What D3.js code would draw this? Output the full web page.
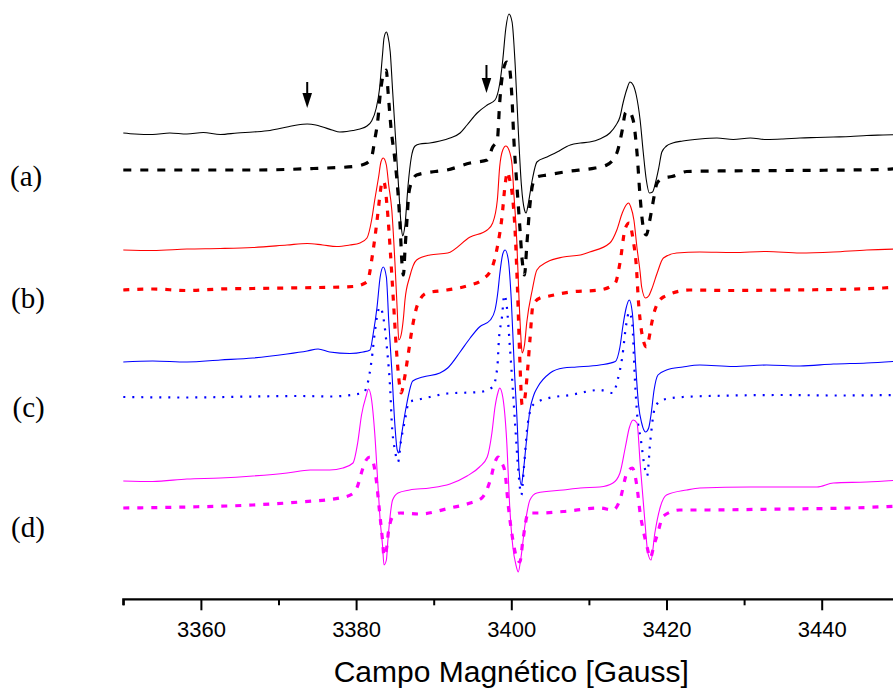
<!DOCTYPE html>
<html>
<head>
<meta charset="utf-8">
<script src="https://cdn.jsdelivr.net/npm/d3@7"></script>
<style>
  html, body { margin: 0; padding: 0; background: #fff; }
  svg { display: block; }
</style>
</head>
<body>
<svg id="chart" width="893" height="688"></svg>
<script>
// ---- Data (field in Gauss, intensity in arbitrary units) ----
const majorTicks = [3360, 3380, 3400, 3420, 3440];
const minorTicks = [3350, 3370, 3390, 3410, 3430, 3450];
const sampleLabels = ["(a)", "(b)", "(c)", "(d)"];
const axisTitle = "Campo Magnético [Gauss]";

const aSolid = [[3350,467],[3351.5,466],[3353.8,465.5],[3356,467],[3358.2,466],[3360.3,467.5],[3362.5,465.5],[3364.7,467],[3366.7,468],[3368.9,469.5],[3371.1,473],[3372.4,475],[3373.7,476],[3374.8,475],[3375.7,473],[3376.9,470],[3377.9,468],[3378.8,468.5],[3379.6,469.5],[3380.5,471],[3381.4,474],[3382.0,479],[3382.6,492],[3383.0,510],[3383.4,545],[3383.6,562],[3383.9,568],[3384.1,564],[3384.4,548],[3384.7,510],[3385.1,460],[3385.5,410],[3385.8,375],[3386.0,364],[3386.3,375],[3386.7,415],[3387.1,442],[3387.6,454],[3388.2,456],[3389.5,457],[3390.8,459],[3392.1,462],[3393.4,467],[3394.3,475],[3395.6,487],[3396.9,495],[3397.9,500],[3398.5,516],[3398.9,540],[3399.3,572],[3399.7,586],[3400.1,578],[3400.5,535],[3400.9,470],[3401.3,415],[3401.7,390],[3401.9,387],[3402.2,397],[3402.7,420],[3403.3,438],[3404.6,443],[3405.9,448],[3407.6,455],[3408.9,457],[3410.1,458],[3411.4,461],[3412.7,467],[3413.5,475],[3414.0,483],[3414.4,497],[3414.9,511],[3415.3,518],[3415.7,515],[3416.1,505],[3416.6,480],[3417.0,448],[3417.4,420],[3417.8,407],[3418.2,408],[3418.6,418],[3419.0,432],[3419.4,448],[3420.0,454],[3420.8,457],[3422.1,459],[3424.3,461],[3426.5,462],[3428.6,460.5],[3430.8,462],[3432.9,460.5],[3435.0,461],[3437.2,462],[3439.4,462.5],[3441.5,463],[3443.7,463.5],[3445.8,464.5],[3447.9,465],[3450.1,465.5]];

const aDashed = [[3350,430],[3358.2,430],[3366.7,430],[3374.5,431.5],[3379.6,433.5],[3381.4,437],[3382.0,443],[3382.4,460],[3382.8,480],[3383.1,505],[3383.5,525],[3383.9,530],[3384.1,510],[3384.5,472],[3385.0,440],[3385.4,407],[3385.7,370],[3385.9,338],[3386.1,325],[3386.3,350],[3386.6,385],[3386.8,407],[3387.3,420],[3387.8,425],[3390.2,428.5],[3391.7,430],[3394.7,437],[3396.9,440],[3397.6,453],[3398.2,460],[3398.5,497],[3398.9,527],[3399.4,538],[3399.7,535],[3400.1,500],[3400.3,465],[3400.7,417],[3401.1,373],[3401.4,340],[3401.7,325],[3402.0,355],[3402.4,395],[3402.8,417],[3403.3,423],[3404.6,425],[3407.2,428.5],[3410.8,432],[3412.3,435],[3413.6,447],[3414.3,470],[3414.7,487],[3415.1,489],[3415.7,480],[3416.2,447],[3416.6,403],[3417.0,373],[3417.4,365],[3417.8,378],[3418.2,395],[3418.8,417],[3419.6,422],[3420.7,423.5],[3422.6,428.5],[3426.5,429],[3435.0,429.5],[3443.7,430],[3447.9,430.5],[3450.1,432]];

const bSolid = [[3350,350],[3353.8,349.5],[3358.2,351],[3362.5,351.5],[3366.7,352.5],[3371.1,355],[3373.7,356.5],[3375.7,355],[3377.5,353.5],[3379.2,355],[3380.5,357],[3381.4,362],[3382.0,380],[3382.4,400],[3382.9,423],[3383.2,438],[3383.5,442],[3383.9,435],[3384.2,415],[3384.6,390],[3385.0,338],[3385.3,290],[3385.5,260],[3385.8,265],[3386.1,282],[3386.3,300],[3386.9,323],[3387.8,340],[3389.5,345],[3391.8,347],[3394.7,363],[3396.9,370],[3397.6,377],[3398.2,400],[3398.5,433],[3398.9,450],[3399.3,454],[3399.7,450],[3400.1,435],[3400.3,410],[3400.7,360],[3401.0,300],[3401.3,255],[3401.4,247],[3401.7,255],[3402.0,278],[3402.7,310],[3403.3,330],[3404.6,338],[3406.7,343],[3408.9,345],[3410.1,348],[3412.7,357],[3413.6,370],[3414.3,387],[3414.8,395],[3415.1,397],[3415.4,393],[3415.8,380],[3416.2,352],[3416.6,328],[3416.8,313],[3417.3,302],[3417.7,304],[3418.1,311],[3418.8,327],[3419.6,342],[3421.3,347],[3424.3,348],[3428.6,347.5],[3432.9,348.5],[3437.2,347],[3441.5,348],[3445.8,350],[3450.1,351]];

const bDashed = [[3350,310],[3353.8,311],[3358.2,309.5],[3362.5,311],[3366.7,311.5],[3371.1,312],[3375.3,312.5],[3379.6,313.5],[3381.4,318],[3382.2,350],[3382.9,393],[3383.1,407],[3383.4,419],[3383.6,418],[3384.0,393],[3384.4,350],[3384.8,300],[3385.2,250],[3385.6,215],[3385.8,207],[3386.2,220],[3386.7,245],[3387.3,275],[3387.9,295],[3389.1,307],[3391.7,310],[3394.7,315],[3396.2,320],[3397.5,332],[3398.2,353],[3398.8,383],[3399.2,415],[3399.5,428],[3399.8,420],[3400.1,407],[3400.5,367],[3400.8,310],[3401.1,240],[3401.4,195],[3401.7,200],[3402.1,230],[3402.4,260],[3402.8,295],[3403.7,302],[3404.6,303.5],[3407.6,308],[3411.4,310],[3413.4,317],[3414.0,337],[3414.7,372],[3415.2,377],[3415.7,360],[3416.1,335],[3416.4,297],[3416.6,280],[3417.0,260],[3417.4,253],[3417.7,260],[3418.1,277],[3418.5,290],[3419.6,303],[3423.0,310],[3428.6,309.5],[3435.0,310],[3441.5,310.5],[3447.9,312],[3450.1,313]];

const cSolid = [[3350,238],[3353.8,239],[3358.2,238],[3362.5,240],[3366.7,242],[3371.1,246],[3373.7,249],[3375.1,251],[3376.6,248],[3379.2,246.5],[3380.9,248],[3381.8,250],[3382.2,266],[3382.7,293],[3383.1,323],[3383.5,333],[3383.9,323],[3384.2,280],[3384.6,230],[3385.0,175],[3385.3,150],[3385.5,147],[3385.8,162],[3386.2,182],[3386.5,195],[3387.3,219],[3388.6,223],[3390.8,227],[3391.8,232],[3393.4,248],[3394.7,262],[3395.9,273],[3397.3,280],[3397.9,290],[3398.3,310],[3398.5,325],[3398.9,346],[3399.2,350],[3399.6,341],[3400.0,300],[3400.4,230],[3400.8,170],[3401.0,130],[3401.3,115],[3401.5,125],[3401.9,155],[3402.4,190],[3402.9,205],[3403.4,213],[3405.0,227],[3406.7,232],[3408.4,233],[3411.4,235],[3413.4,238.5],[3414.0,253],[3414.4,275],[3414.8,292],[3415.2,300],[3415.6,287],[3416.0,238],[3416.4,195],[3416.8,177],[3417.3,168],[3417.7,172],[3418.0,185],[3418.4,210],[3418.9,225],[3420.0,230],[3422.1,233],[3424.3,235],[3428.6,233.5],[3432.9,235],[3437.2,234],[3441.5,236],[3445.8,237],[3450.1,239]];

const cDotted = [[3350,203],[3358.2,202.5],[3366.7,203.5],[3372.8,204],[3376.6,203.5],[3380.9,207],[3381.5,217],[3382.0,240],[3382.4,267],[3382.8,288],[3383.1,293],[3383.5,283],[3384.0,250],[3384.4,210],[3384.6,177],[3385.0,150],[3385.4,138],[3385.8,160],[3386.3,180],[3386.8,198],[3387.8,200],[3389.5,203],[3391.8,206.5],[3395.9,208],[3397.6,213],[3398.2,233],[3398.4,260],[3398.8,283],[3399.1,305],[3399.4,295],[3399.8,255],[3400.2,210],[3400.5,175],[3400.9,130],[3401.3,105],[3401.6,130],[3402.1,175],[3402.8,195],[3404.6,201.5],[3407.6,205],[3411.4,210],[3413.1,207],[3413.7,220],[3414.3,243],[3414.8,275],[3415.2,288],[3415.6,275],[3415.9,225],[3416.2,187],[3416.7,160],[3417.2,132],[3417.5,124],[3417.9,158],[3418.5,192],[3419.4,200],[3422.1,203],[3428.6,204.5],[3435.0,205],[3441.5,204.5],[3450.1,205]];

const dSolid = [[3350,119],[3353.8,118.5],[3358.2,121],[3362.5,122],[3366.7,124],[3371.1,127],[3374.1,130],[3376.6,130],[3378.3,132],[3379.6,137],[3380.2,157],[3380.7,185],[3381.3,204],[3381.6,211],[3382.0,200],[3382.4,167],[3382.8,117],[3383.1,80],[3383.4,55],[3383.6,35],[3383.9,40],[3384.1,60],[3384.4,85],[3384.7,100],[3385.4,107],[3386.9,110],[3389.5,112],[3392.1,116],[3394.3,124],[3395.9,133],[3396.9,143],[3397.5,167],[3397.9,193],[3398.3,208],[3398.5,212],[3398.9,203],[3399.4,160],[3399.8,93],[3400.2,53],[3400.6,35],[3400.9,28],[3401.2,40],[3401.8,77],[3402.4,100],[3403.3,107],[3406.7,110],[3408.9,112],[3411.4,113],[3413.1,117],[3414.0,127],[3414.7,153],[3415.2,172],[3415.7,180],[3416.2,177],[3416.6,137],[3417.2,80],[3417.6,47],[3418.0,40],[3418.5,67],[3419.2,93],[3420.0,105],[3422.6,110],[3424.3,112],[3430.8,113],[3439.4,113],[3441.5,117],[3445.8,118],[3450.1,120]];

const dDashed = [[3350,92],[3358.2,93],[3366.7,95],[3372.8,98],[3377.9,102],[3379.5,106],[3380.1,112],[3380.8,130],[3381.3,140],[3381.8,143],[3382.2,138],[3382.6,120],[3383.0,90],[3383.4,60],[3383.6,44],[3383.9,50],[3384.2,70],[3384.8,84],[3385.7,87],[3388.2,86],[3392.1,92],[3394.7,97],[3396.2,102],[3397.3,120],[3397.9,138],[3398.3,143],[3398.8,137],[3399.2,127],[3399.6,95],[3400.2,60],[3400.7,42],[3401.1,38],[3401.5,60],[3402.2,87],[3403.7,87],[3406.7,88.5],[3411.4,92],[3413.1,90],[3414.0,100],[3414.9,127],[3415.6,132],[3416.2,113],[3416.6,87],[3417.0,70],[3417.5,53],[3417.9,42],[3418.4,55],[3418.8,65],[3419.6,84],[3421.7,90],[3424.3,90],[3435.0,91],[3443.7,92],[3450.1,94]];

// arrows: field position, top of shaft, tip (intensity units)
const arrowFields = [3373.7, 3396.8];
const arrowTops = [518, 535];
const arrowTips = [492, 507];

// label vertical positions (intensity units, baseline)
const labelLevels = [414, 292, 183, 63];

// ---- Drawing ----
const svg = d3.select("#chart");
const x = d3.scaleLinear().domain([3350, 3450]).range([123.3, 899.3]);
const y = d3.scaleLinear().domain([0, 600]).range([600, 0]);

const series = [
  {data: aSolid,  color: "#000000", width: 1.1, dash: null},
  {data: aDashed, color: "#000000", width: 3.2, dash: "8,9"},
  {data: bSolid,  color: "#ff0000", width: 1.1, dash: null},
  {data: bDashed, color: "#ff0000", width: 3.2, dash: "6,8"},
  {data: cSolid,  color: "#0000ff", width: 1.1, dash: null},
  {data: cDotted, color: "#0000ff", width: 2.2, dash: "2,7"},
  {data: dSolid,  color: "#ff00ff", width: 1.1, dash: null},
  {data: dDashed, color: "#ff00ff", width: 3.2, dash: "6,8"}
];

const line = d3.line()
  .x(d => x(d[0]))
  .y(d => y(d[1]))
  .curve(d3.curveMonotoneX);

svg.append("g").selectAll("path")
  .data(series)
  .join("path")
  .attr("d", d => line(d.data))
  .attr("fill", "none")
  .attr("stroke", d => d.color)
  .attr("stroke-width", d => d.width)
  .attr("stroke-dasharray", d => d.dash)
  .attr("stroke-linejoin", "round");

// arrows
const arrows = svg.append("g");
arrowFields.forEach((f, i) => {
  const ax = x(f), top = y(arrowTops[i]), tip = y(arrowTips[i]);
  arrows.append("line")
    .attr("x1", ax).attr("x2", ax)
    .attr("y1", top).attr("y2", tip - 12)
    .attr("stroke", "#000").attr("stroke-width", 2);
  arrows.append("path")
    .attr("d", `M${ax-4.8},${tip-15} L${ax+4.8},${tip-15} L${ax},${tip} Z`)
    .attr("fill", "#000");
});

// x axis
const axisY = y(0) - 0.7;
const minor = svg.append("g")
  .attr("transform", `translate(0,${axisY})`)
  .call(d3.axisBottom(x).tickValues(minorTicks).tickSize(6).tickFormat(""));
minor.select(".domain").attr("stroke-width", 2.2).attr("d", `M${x(3350)},6V0H${x(3450)}`);
minor.selectAll(".tick line").attr("stroke-width", 2);

const major = svg.append("g")
  .attr("transform", `translate(0,${axisY})`)
  .call(d3.axisBottom(x).tickValues(majorTicks).tickSize(11).tickPadding(11).tickFormat(d3.format("d")));
major.select(".domain").remove();
major.selectAll(".tick line").attr("stroke-width", 2);
major.selectAll(".tick text")
  .attr("font-family", "'Liberation Sans', Arial, sans-serif")
  .attr("font-size", 22)
  .attr("fill", "#000");

svg.append("text")
  .attr("x", x(3400))
  .attr("y", 682)
  .attr("text-anchor", "middle")
  .attr("font-family", "'Liberation Sans', Arial, sans-serif")
  .attr("font-size", 30)
  .text(axisTitle);

// sample labels
svg.append("g").selectAll("text")
  .data(sampleLabels)
  .join("text")
  .attr("x", (d, i) => [10, 11, 12.5, 11][i])
  .attr("y", (d, i) => y(labelLevels[i]))
  .attr("font-family", "'Liberation Serif', 'Times New Roman', serif")
  .attr("font-size", 29)
  .text(d => d);
</script>
</body>
</html>
